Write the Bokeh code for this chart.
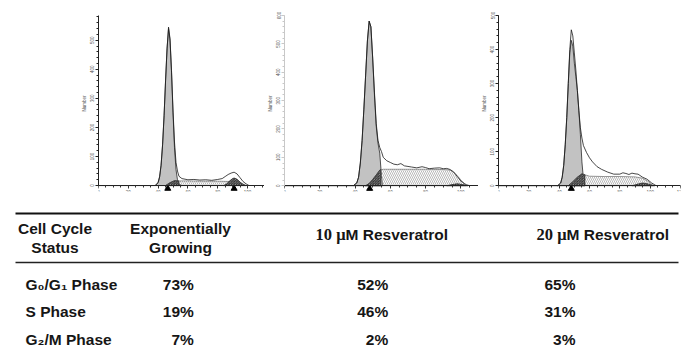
from bokeh.plotting import figure
from bokeh.layouts import row, column
from bokeh.models import Range1d, FixedTicker
from bokeh.core.properties import value
from bokeh.embed import file_html
from bokeh.resources import INLINE

# ---------------- DATA ----------------
# Panel A: exponentially growing (DNA content histogram, channels vs number)
a_raw_ch = [0, 38, 40, 41, 42, 43, 44, 45, 46, 47, 48, 49, 50, 51, 52, 53, 54, 56, 60, 64, 68, 72, 76, 80, 83, 85, 87, 89, 91, 93, 95, 97, 99, 101]
a_raw_ct = [0, 0, 10, 30, 70, 140, 240, 360, 470, 545, 505, 395, 260, 150, 80, 50, 32, 24, 20, 21, 19, 20, 18, 21, 24, 31, 38, 43, 46, 40, 27, 14, 6, 0]
a_g1_ch = [38, 40, 41, 42, 43, 44, 45, 46, 47, 48, 49, 50, 51, 52, 53, 54, 56]
a_g1_ct = [0, 10, 30, 70, 140, 240, 360, 470, 540, 500, 390, 250, 130, 55, 20, 5, 0]
a_s_ch = [45, 48, 51, 54, 60, 70, 80, 88, 92, 96, 99]
a_s_ct = [0, 10, 17, 16, 16, 15, 15, 14, 13, 8, 0]
a_sd_ch = [45, 48, 51, 54, 54]
a_sd_ct = [0, 10, 17, 16, 0]
a_g2_ch = [84, 86, 88, 90, 91, 93, 95, 97, 99]
a_g2_ct = [0, 6, 16, 24, 26, 22, 12, 4, 0]
a_marks = [46.5, 91]

# Panel B: 10 uM resveratrol
b_raw_ch = [0, 39, 41, 42, 43, 44, 45, 46, 47, 48, 49, 50, 51, 52, 53, 54, 55, 56, 58, 60, 62, 64, 66, 68, 70, 72, 75, 78, 80, 82, 85, 88, 90, 92, 94, 96, 97, 98, 100, 102, 103, 105]
b_raw_ct = [0, 0, 10, 30, 80, 160, 270, 390, 510, 580, 560, 450, 330, 220, 160, 135, 120, 100, 88, 82, 76, 74, 78, 70, 68, 66, 63, 67, 64, 60, 62, 63, 60, 61, 57, 48, 40, 32, 17, 8, 4, 0]
b_g1_ch = [39, 41, 42, 43, 44, 45, 46, 47, 48, 49, 50, 51, 52, 53, 54, 54.8, 55.5]
b_g1_ct = [0, 10, 30, 80, 160, 270, 390, 510, 580, 560, 450, 320, 210, 150, 115, 50, 0]
b_s_ch = [46, 48, 50, 52, 54, 56, 60, 70, 80, 90, 93, 95, 97, 99, 101, 103]
b_s_ct = [0, 8, 22, 38, 55, 58, 58, 58, 58, 57, 56, 52, 42, 28, 12, 0]
b_sd_ch = [46, 48, 50, 52, 54, 54.5, 54.5]
b_sd_ct = [0, 8, 22, 38, 55, 57, 0]
b_g2_ch = [92, 95, 98, 101, 104]
b_g2_ct = [0, 4, 7, 4, 0]
b_marks = [48.3]

# Panel C: 20 uM resveratrol
c_raw_ch = [0, 39, 41, 42, 43, 44, 45, 46, 47, 48, 49, 50, 51, 52, 53, 54, 55, 56, 58, 60, 62, 65, 68, 72, 76, 80, 82, 84, 86, 88, 90, 92, 95, 98, 101, 104]
c_raw_ct = [0, 0, 8, 25, 60, 120, 200, 300, 400, 458, 440, 390, 340, 280, 220, 170, 140, 118, 98, 82, 70, 56, 48, 40, 34, 34, 38, 36, 33, 37, 35, 34, 25, 19, 8, 0]
c_g1_ch = [39, 41, 42, 43, 44, 45, 46, 47, 48, 49, 50, 51, 52, 53, 54, 55, 56, 57]
c_g1_ct = [0, 8, 25, 60, 120, 200, 300, 390, 427, 410, 360, 320, 280, 220, 150, 70, 20, 0]
c_s_ch = [46, 49, 52, 55, 57, 60, 70, 80, 90, 95, 99, 102]
c_s_ct = [0, 12, 25, 35, 32, 28, 27, 27, 26, 22, 12, 0]
c_sd_ch = [46, 49, 52, 55, 57, 57]
c_sd_ct = [0, 12, 25, 35, 32, 0]
c_g2_ch = [88, 92, 95, 98, 101, 103]
c_g2_ct = [0, 5, 8, 6, 2, 0]
c_marks = [48]

x_major = [0, 20, 40, 60, 80, 100, 120]
x_minor = list(range(0, 125, 5))
y_major = [0, 100, 200, 300, 400, 500, 600]
y_minor = list(range(0, 620, 20))

# Table
status_head = ["Cell Cycle", "Status"]
exp_head = ["Exponentially", "Growing"]
treat_num = ["10 \u03bc", "20 \u03bc"]
treat_txt = ["M Resveratrol", "M Resveratrol"]
phase_labels = ["G\u2080/G\u2081 Phase", "S Phase", "G\u2082/M Phase"]
pct_exp = [73, 19, 7]
pct_10 = [52, 46, 2]
pct_20 = [65, 31, 3]

# ---------------- LAYOUT / STYLE ----------------
FIG_H = 208
SANS = value("Liberation Sans")
SERIF = value("Liberation Serif")


def hist(panel, width, b_left, b_right, frame_px, base_px, x_end, y_top, yaxis_color="#222222"):
    raw_ch, raw_ct, g1_ch, g1_ct, s_ch, s_ct, sd_ch, sd_ct, g2_ch, g2_ct, marks = panel
    pad = 6
    k = y_top / (base_px - frame_px)
    y0 = -pad * k
    b_top = frame_px
    b_bottom = FIG_H - b_top - (base_px + pad - frame_px)
    p = figure(width=width, height=FIG_H, output_backend="svg", toolbar_location=None,
               x_range=Range1d(0, x_end), y_range=Range1d(y0, y_top),
               min_border_left=b_left, min_border_right=b_right,
               min_border_top=b_top, min_border_bottom=b_bottom)
    p.grid.visible = False
    p.outline_line_color = None
    p.patch(g1_ch, g1_ct, fill_color="#c2c2c2", line_color="#2a2a2a", line_width=0.8)
    p.patch(s_ch, s_ct, fill_alpha=0, line_color="#555555", line_width=0.6,
            hatch_pattern="left_diagonal_line", hatch_color="#8a8a8a",
            hatch_scale=4, hatch_weight=0.6)
    p.patch(sd_ch, sd_ct, fill_color="#a8a8a8", line_color="#222222", line_width=0.6,
            hatch_pattern="left_diagonal_line", hatch_color="#111111",
            hatch_scale=2.5, hatch_weight=0.8)
    p.patch(g2_ch, g2_ct, fill_color="#a8a8a8", line_color="#222222", line_width=0.7,
            hatch_pattern="left_diagonal_line", hatch_color="#111111",
            hatch_scale=2.5, hatch_weight=0.8)
    p.line(raw_ch, raw_ct, line_color="#1a1a1a", line_width=0.8)
    p.scatter(marks, [-3 * k] * len(marks), marker="triangle", size=6,
              fill_color="black", line_color="black")

    p.xaxis.fixed_location = 0
    p.xaxis.bounds = (0, x_end)
    p.yaxis.bounds = (0, y_top)
    p.xaxis.ticker = FixedTicker(ticks=[t for t in x_major if t <= x_end],
                                 minor_ticks=[t for t in x_minor if t <= x_end])
    p.yaxis.ticker = FixedTicker(ticks=[t for t in y_major if t <= y_top],
                                 minor_ticks=[t for t in y_minor if t <= y_top])
    p.xaxis.axis_label = "Channels"
    p.yaxis.axis_label = "Number"
    for ax in (p.xaxis[0], p.yaxis[0]):
        ax.axis_line_color = "#222222"
        ax.axis_line_width = 1
        ax.major_tick_out = 3
        ax.major_tick_in = 0
        ax.minor_tick_out = 2
        ax.minor_tick_in = 0
        ax.major_tick_line_color = "#333333"
        ax.minor_tick_line_color = "#333333"
        ax.major_label_text_font_size = "4.5px"
        ax.major_label_text_color = "#555555"
        ax.major_label_standoff = 1
        ax.axis_label_text_font_size = "4.5px"
        ax.axis_label_text_color = "#555555"
        ax.axis_label_text_font_style = "normal"
        ax.axis_label_standoff = 1
        ax.major_label_text_font = "Liberation Sans"
        ax.axis_label_text_font = "Liberation Sans"
    p.yaxis.major_label_orientation = "vertical"
    p.yaxis.axis_line_color = yaxis_color
    p.yaxis.major_tick_line_color = yaxis_color
    p.yaxis.minor_tick_line_color = yaxis_color
    return p


panel_a = (a_raw_ch, a_raw_ct, a_g1_ch, a_g1_ct, a_s_ch, a_s_ct, a_sd_ch, a_sd_ct, a_g2_ch, a_g2_ct, a_marks)
panel_b = (b_raw_ch, b_raw_ct, b_g1_ch, b_g1_ct, b_s_ch, b_s_ct, b_sd_ch, b_sd_ct, b_g2_ch, b_g2_ct, b_marks)
panel_c = (c_raw_ch, c_raw_ct, c_g1_ch, c_g1_ct, c_s_ch, c_s_ct, c_sd_ch, c_sd_ct, c_g2_ch, c_g2_ct, c_marks)

p1 = hist(panel_a, 264, 98, 0, 15, 187, 111.4, 585)
p2 = hist(panel_b, 214, 16, 0, 8, 185, 110.0, 600, yaxis_color="#c8c8c8")
p3 = hist(panel_c, 212, 14, 10, 8, 185, 120, 500)

# ---------------- TABLE ----------------
TBL_TOP, TBL_BOT = FIG_H, 356
t = figure(width=690, height=TBL_BOT - TBL_TOP, output_backend="svg", toolbar_location=None,
           x_range=Range1d(0, 690), y_range=Range1d(TBL_BOT, TBL_TOP),
           x_axis_location=None, y_axis_location=None, min_border=0)
t.grid.visible = False
t.outline_line_color = None

RULE_X0, RULE_X1 = 15, 678
t.segment(x0=[RULE_X0], y0=[213], x1=[RULE_X1], y1=[213], line_color="#111111", line_width=2)
t.segment(x0=[RULE_X0], y0=[262], x1=[RULE_X1], y1=[262], line_color="#222222", line_width=1.4)

TXT = dict(text_font=SANS, text_font_style="bold", text_font_size="15.5px",
           text_color="#161616", text_baseline="middle")
HEAD_Y = [227.7, 246.7]
t.text(x=[54.5, 54.5], y=HEAD_Y, text=status_head, text_align="center", **TXT)
t.text(x=[180, 180], y=HEAD_Y, text=exp_head, text_align="center", **TXT)
TREAT_SPLIT = [345, 566]
TREAT_Y = [233.8, 233.8]
t.text(x=TREAT_SPLIT, y=TREAT_Y, text=treat_num, text_align="right",
       text_font=SERIF, text_font_style="bold", text_font_size="16.5px",
       text_color="#161616", text_baseline="middle")
t.text(x=TREAT_SPLIT, y=TREAT_Y, text=treat_txt, text_align="left", **TXT)

ROW_Y0, ROW_STEP = 283.8, 27.5
row_y = [ROW_Y0 + i * ROW_STEP for i in range(len(phase_labels))]
t.text(x=[25] * len(phase_labels), y=row_y, text=phase_labels, text_align="left", **TXT)
for col_x, vals in ((193.3, pct_exp), (387.7, pct_10), (575, pct_20)):
    t.text(x=[col_x] * len(vals), y=row_y, text=[f"{v}%" for v in vals],
           text_align="right", **TXT)

layout = column(row(p1, p2, p3, spacing=0), t, spacing=0)
open("out.html", "w").write(file_html(layout, INLINE))
